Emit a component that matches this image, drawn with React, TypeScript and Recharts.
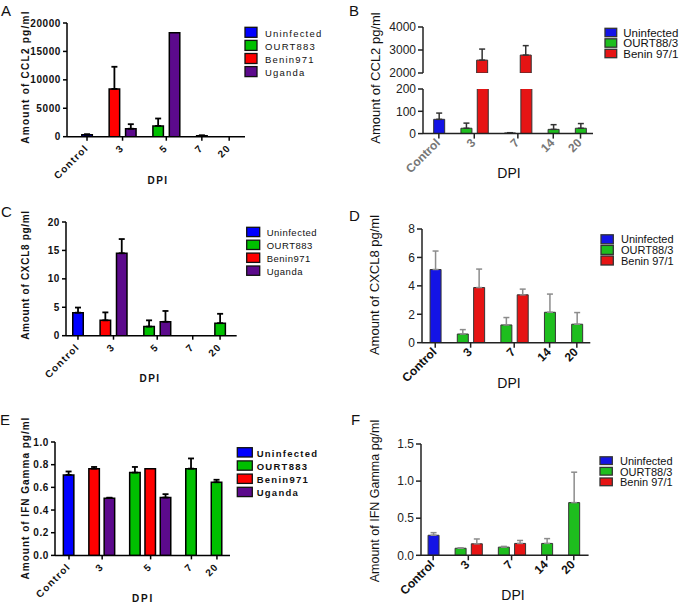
import React from 'react';
import { BarChart, Bar, XAxis, YAxis, ErrorBar, Cell } from 'recharts';

type Num = number | null;

// ---------- colours ----------
const prismColors = ['#0000FF', '#00C000', '#FF0000', '#5C0A8C'];
const oldColors = ['#1414E6', '#1EBE1E', '#E61414'];

// ---------- Panel A : CCL2 ----------
const aCategories = ['Control', '3', '5', '7', '20'];
const aSeries = ['Uninfected', 'OURT883', 'Benin971', 'Uganda'];
const aUninfected: Num[] = [350, null, null, null, null];
const aOURT883: Num[] = [null, null, 1900, 150, null];
const aBenin971: Num[] = [null, 8400, null, null, null];
const aUganda: Num[] = [null, 1400, 18300, null, null];
const aUninfectedErr: Num[] = [80, null, null, null, null];
const aOURT883Err: Num[] = [null, null, 1300, 100, null];
const aBenin971Err: Num[] = [null, 3900, null, null, null];
const aUgandaErr: Num[] = [null, 800, null, null, null];
const aYTicks = [0, 5000, 10000, 15000, 20000];

// ---------- Panel B : CCL2 (broken axis) ----------
const bCategories = ['Control', '3', '7', '14', '20'];
const bSeries = ['Uninfected', 'OURT88/3', 'Benin 97/1'];
const bUninfected: Num[] = [64, null, null, null, null];
const bOURT883: Num[] = [null, 24, 3, 19, 24];
const bBenin971: Num[] = [null, 2560, 2780, null, null];
const bUninfectedErr: Num[] = [28, null, null, null, null];
const bOURT883Err: Num[] = [null, 23, 1, 21, 21];
const bBenin971Err: Num[] = [null, 480, 410, null, null];
const bYTicksUpper = [2000, 3000, 4000];
const bYTicksLower = [0, 100, 200];

// ---------- Panel C : CXCL8 ----------
const cCategories = ['Control', '3', '5', '7', '20'];
const cSeries = ['Uninfected', 'OURT883', 'Benin971', 'Uganda'];
const cUninfected: Num[] = [4.05, null, null, null, null];
const cOURT883: Num[] = [null, null, 1.6, null, 2.2];
const cBenin971: Num[] = [null, 2.7, null, null, null];
const cUganda: Num[] = [null, 14.5, 2.45, null, null];
const cUninfectedErr: Num[] = [0.9, null, null, null, null];
const cOURT883Err: Num[] = [null, null, 1.1, null, 1.65];
const cBenin971Err: Num[] = [null, 1.4, null, null, null];
const cUgandaErr: Num[] = [null, 2.5, 1.9, null, null];
const cYTicks = [0, 5, 10, 15, 20];

// ---------- Panel D : CXCL8 ----------
const dCategories = ['Control', '3', '7', '14', '20'];
const dSeries = ['Uninfected', 'OURT88/3', 'Benin 97/1'];
const dUninfected: Num[] = [5.15, null, null, null, null];
const dOURT883: Num[] = [null, 0.61, 1.25, 2.14, 1.3];
const dBenin971: Num[] = [null, 3.88, 3.37, null, null];
const dUninfectedErr: Num[] = [1.3, null, null, null, null];
const dOURT883Err: Num[] = [null, 0.31, 0.52, 1.28, 0.82];
const dBenin971Err: Num[] = [null, 1.3, 0.4, null, null];
const dYTicks = [0, 2, 4, 6, 8];

// ---------- Panel E : IFN Gamma ----------
const eCategories = ['Control', '3', '5', '7', '20'];
const eSeries = ['Uninfected', 'OURT883', 'Benin971', 'Uganda'];
const eUninfected: Num[] = [0.71, null, null, null, null];
const eOURT883: Num[] = [null, null, 0.73, 0.765, 0.645];
const eBenin971: Num[] = [null, 0.765, 0.765, null, null];
const eUganda: Num[] = [null, 0.505, 0.51, null, null];
const eUninfectedErr: Num[] = [0.03, null, null, null, null];
const eOURT883Err: Num[] = [null, null, 0.05, 0.09, 0.022];
const eBenin971Err: Num[] = [null, 0.015, null, null, null];
const eUgandaErr: Num[] = [null, 0.004, 0.03, null, null];
const eYTicks = [0, 0.2, 0.4, 0.6, 0.8, 1.0];

// ---------- Panel F : IFN Gamma ----------
const fCategories = ['Control', '3', '7', '14', '20'];
const fSeries = ['Uninfected', 'OURT88/3', 'Benin 97/1'];
const fUninfected: Num[] = [0.27, null, null, null, null];
const fOURT883: Num[] = [null, 0.095, 0.11, 0.16, 0.71];
const fBenin971: Num[] = [null, 0.155, 0.16, null, null];
const fUninfectedErr: Num[] = [0.035, null, null, null, null];
const fOURT883Err: Num[] = [null, 0.006, 0.01, 0.065, 0.41];
const fBenin971Err: Num[] = [null, 0.065, 0.04, null, null];
const fYTicks = [0, 0.5, 1.0, 1.5];

// ---------- layout helper: one slot per present bar ----------
const GROUP_GAP = 2 / 3;
type Row = { pos: number; value: number; err: number[] | null; color: string };
function buildSlots(cats: string[], vals: Num[][], errs: Num[][], colors: string[]) {
  const rows: Row[] = [];
  const ticks: number[] = [];
  let pos = 0;
  cats.forEach((_, ci) => {
    if (ci > 0) pos += GROUP_GAP;
    const start = pos;
    let n = 0;
    vals.forEach((series, si) => {
      const v = series[ci];
      if (v == null) return;
      const e = errs[si][ci];
      rows.push({ pos, value: v, err: e != null ? [0, e] : null, color: colors[si] });
      pos += 1;
      n += 1;
    });
    if (n === 0) pos += 1;
    ticks.push((start + pos - 1) / 2);
  });
  return { rows, ticks };
}

const A = buildSlots(aCategories, [aUninfected, aOURT883, aBenin971, aUganda], [aUninfectedErr, aOURT883Err, aBenin971Err, aUgandaErr], prismColors);
const B = buildSlots(bCategories, [bUninfected, bOURT883, bBenin971], [bUninfectedErr, bOURT883Err, bBenin971Err], oldColors);
const C = buildSlots(cCategories, [cUninfected, cOURT883, cBenin971, cUganda], [cUninfectedErr, cOURT883Err, cBenin971Err, cUgandaErr], prismColors);
const D = buildSlots(dCategories, [dUninfected, dOURT883, dBenin971], [dUninfectedErr, dOURT883Err, dBenin971Err], oldColors);
const E = buildSlots(eCategories, [eUninfected, eOURT883, eBenin971, eUganda], [eUninfectedErr, eOURT883Err, eBenin971Err, eUgandaErr], prismColors);
const F = buildSlots(fCategories, [fUninfected, fOURT883, fBenin971], [fUninfectedErr, fOURT883Err, fBenin971Err], oldColors);

const FONT = '"Liberation Sans", Arial, Helvetica, sans-serif';

type Style = {
  barSize: number; barStroke: string; barStrokeWidth: number;
  errStroke: string; errWidth: number; capWidth: number;
  axisStroke: string; axisWidth: number; tickSize: number;
  yTick: any; xTick: any; xdx: number; xdy: number;
};

const prismStyle: Style = {
  barSize: 10.5, barStroke: '#000', barStrokeWidth: 1.5,
  errStroke: '#000', errWidth: 1.8, capWidth: 3,
  axisStroke: '#000', axisWidth: 1.5, tickSize: 4,
  yTick: { fontSize: 10, fontWeight: 700, letterSpacing: 0.6, fill: '#111', fontFamily: FONT },
  xTick: { fontSize: 10, fontWeight: 700, letterSpacing: 1.2, fill: '#111', fontFamily: FONT },
  xdx: 2, xdy: 6,
};
const oldStyle = (errStroke: string, tickFill: string): Style => ({
  barSize: 11, barStroke: '#333', barStrokeWidth: 1,
  errStroke, errWidth: 1.5, capWidth: 3,
  axisStroke: '#222', axisWidth: 1.5, tickSize: 5,
  yTick: { fontSize: 12, fill: '#222', fontFamily: FONT },
  xTick: { fontSize: 12, fontWeight: 700, fill: tickFill, fontFamily: FONT },
  xdx: 2, xdy: 3,
});
const bStyle = oldStyle('#333', '#777');
const dfStyle = oldStyle('#8c8c8c', '#111');

type Plot = { x0: number; y0: number; x1: number; y1: number };

function BarPanel(props: {
  plot: Plot; rows: Row[]; ticks: number[]; labels: string[];
  xDomain: number[]; yDomain: number[]; yTicks: number[];
  yFormat?: (v: number) => string; st: Style; showX?: boolean;
}) {
  const { plot, rows, ticks, labels, xDomain, yDomain, yTicks, yFormat, st } = props;
  const showX = props.showX !== false;
  const yAxisW = 55;
  const top = plot.y0 - 10;
  const left = plot.x0 - yAxisW;
  const xAxisH = showX ? 52 : 0;
  const bottomPad = showX ? 0 : 10;
  const width = plot.x1 - left + 6;
  const height = plot.y1 - top + xAxisH + bottomPad;
  const data = rows
    .filter((r) => r.value >= yDomain[0])
    .map((r) => ({ ...r, err: r.value <= yDomain[1] ? r.err : null }));
  const renderTick = (p: any) => {
    const label = labels[ticks.indexOf(p.payload.value)] ?? labels[p.index];
    return (
      <g transform={`translate(${p.x + st.xdx},${p.y + st.xdy})`}>
        <text transform="rotate(-45)" textAnchor="end" {...st.xTick}>{label}</text>
      </g>
    );
  };
  return (
    <div style={{ position: 'absolute', left, top }}>
      <BarChart width={width} height={height} data={data}
        margin={{ top: plot.y0 - top, right: 6, bottom: bottomPad, left: 0 }}>
        <XAxis type="number" dataKey="pos" domain={xDomain} ticks={ticks} interval={0}
          allowDataOverflow hide={!showX} height={xAxisH}
          axisLine={{ stroke: st.axisStroke, strokeWidth: st.axisWidth }}
          tickLine={{ stroke: st.axisStroke, strokeWidth: st.axisWidth }}
          tickSize={st.tickSize} tick={renderTick} />
        <YAxis type="number" domain={yDomain} ticks={yTicks} interval={0} allowDataOverflow
          width={yAxisW} axisLine={{ stroke: st.axisStroke, strokeWidth: st.axisWidth }}
          tickLine={{ stroke: st.axisStroke, strokeWidth: st.axisWidth }}
          tickSize={st.tickSize} tick={st.yTick} tickFormatter={yFormat} />
        <Bar dataKey="value" barSize={st.barSize} isAnimationActive={false}
          stroke={st.barStroke} strokeWidth={st.barStrokeWidth}>
          {data.map((r, i) => <Cell key={i} fill={r.color} />)}
          <ErrorBar dataKey="err" width={st.capWidth} stroke={st.errStroke}
            strokeWidth={st.errWidth} direction="y" isAnimationActive={false} />
        </Bar>
      </BarChart>
    </div>
  );
}

function YTitle({ x, y, text, size, bold, ls }: any) {
  return (
    <text transform={`translate(${x},${y}) rotate(-90)`} textAnchor="middle" fontFamily={FONT}
      fontSize={size} fontWeight={bold ? 700 : 400} letterSpacing={ls} fill="#111">{text}</text>
  );
}

function LegendBox({ x, y, w, h, step, tx, names, colors, size, bold, ls, base, stroke }: any) {
  return (
    <g>
      {names.map((n: string, i: number) => (
        <g key={n}>
          <rect x={x} y={y + i * step} width={w} height={h} fill={colors[i]} stroke={stroke} strokeWidth={1.3} />
          <text x={tx} y={y + i * step + base} fontFamily={FONT} fontSize={size}
            fontWeight={bold ? 700 : 400} letterSpacing={ls} fill="#111">{n}</text>
        </g>
      ))}
    </g>
  );
}

const f1 = (v: number) => v.toFixed(1);

export default function App() {
  return (
    <div style={{ position: 'absolute', left: 0, top: 0, width: 685, height: 604, background: '#fff', overflow: 'hidden' }}>
      <BarPanel plot={{ x0: 67, y0: 23.3, x1: 245, y1: 137 }} rows={A.rows} ticks={A.ticks} labels={aCategories}
        xDomain={[-1.22, 9.63]} yDomain={[0, 20000]} yTicks={aYTicks} st={prismStyle} />
      <BarPanel plot={{ x0: 423.3, y0: 26.7, x1: 593.3, y1: 72.7 }} rows={B.rows} ticks={B.ticks} labels={bCategories}
        xDomain={[-0.97, 9.43]} yDomain={[2000, 4000]} yTicks={bYTicksUpper} st={bStyle} showX={false} />
      <BarPanel plot={{ x0: 423.3, y0: 88.7, x1: 593.3, y1: 133.3 }} rows={B.rows} ticks={B.ticks} labels={bCategories}
        xDomain={[-0.97, 9.43]} yDomain={[0, 200]} yTicks={bYTicksLower} st={bStyle} />
      <BarPanel plot={{ x0: 66, y0: 222.3, x1: 236.7, y1: 336 }} rows={C.rows} ticks={C.ticks} labels={cCategories}
        xDomain={[-0.73, 9.68]} yDomain={[0, 20]} yTicks={cYTicks} st={prismStyle} />
      <BarPanel plot={{ x0: 421.7, y0: 229.3, x1: 590, y1: 343 }} rows={D.rows} ticks={D.ticks} labels={dCategories}
        xDomain={[-0.81, 9.49]} yDomain={[0, 8]} yTicks={dYTicks} st={dfStyle} />
      <BarPanel plot={{ x0: 55, y0: 442.3, x1: 230, y1: 555.7 }} rows={E.rows} ticks={E.ticks} labels={eCategories}
        xDomain={[-0.915, 10.52]} yDomain={[0, 1]} yTicks={eYTicks} yFormat={f1} st={prismStyle} />
      <BarPanel plot={{ x0: 420.7, y0: 444, x1: 588.3, y1: 555.3 }} rows={F.rows} ticks={F.ticks} labels={fCategories}
        xDomain={[-0.75, 9.58]} yDomain={[0, 1.5]} yTicks={fYTicks} yFormat={f1} st={dfStyle} />

      <svg width={685} height={604} style={{ position: 'absolute', left: 0, top: 0, pointerEvents: 'none' }}>
        {/* panel letters */}
        <g fontFamily={FONT} fontSize={15} fill="#111">
          <text x={1} y={15.5}>A</text>
          <text x={349} y={15.5}>B</text>
          <text x={1} y={216.5}>C</text>
          <text x={349} y={220.5}>D</text>
          <text x={0} y={425}>E</text>
          <text x={351} y={425}>F</text>
        </g>
        {/* axis titles */}
        <YTitle x={29} y={77} text="Amount of CCL2 pg/ml" size={10} bold ls={1.25} />
        <YTitle x={379.5} y={78} text="Amount of CCL2 pg/ml" size={13} />
        <YTitle x={29} y={275} text="Amount of CXCL8 pg/ml" size={10} bold ls={0.7} />
        <YTitle x={379} y={285} text="Amount of CXCL8 pg/ml" size={13} />
        <YTitle x={29} y={498} text="Amount of IFN Gamma pg/ml" size={10} bold ls={1.0} />
        <YTitle x={379} y={501} text="Amount of IFN Gamma pg/ml" size={12.5} />
        <g fontFamily={FONT} fill="#111" textAnchor="middle">
          <text x={158} y={183.5} fontSize={10} fontWeight={700} letterSpacing={1.5}>DPI</text>
          <text x={509} y={178} fontSize={14}>DPI</text>
          <text x={150} y={382} fontSize={10} fontWeight={700} letterSpacing={1.5}>DPI</text>
          <text x={509} y={388} fontSize={14}>DPI</text>
          <text x={143} y={601.5} fontSize={10} fontWeight={700} letterSpacing={1.8}>DPI</text>
          <text x={513} y={600} fontSize={14}>DPI</text>
        </g>
        {/* legends */}
        <LegendBox x={245} y={27.3} w={12} h={10} step={13.1} tx={265} names={aSeries} colors={prismColors}
          size={9.5} ls={1.2} base={9.4} stroke="#111" />
        <LegendBox x={605} y={28.3} w={11.7} h={8.4} step={10.5} tx={623.3} names={bSeries} colors={oldColors}
          size={11.5} base={8.6} stroke="#333" />
        <LegendBox x={246.7} y={227.3} w={13} h={9.3} step={12.9} tx={266.7} names={cSeries} colors={prismColors}
          size={9.5} ls={0.5} base={9} stroke="#111" />
        <LegendBox x={601} y={234.8} w={12.3} h={9} step={10.6} tx={621} names={dSeries} colors={oldColors}
          size={11} base={8.6} stroke="#333" />
        <LegendBox x={237.3} y={447.7} w={15} h={9.3} step={13.2} tx={256.7} names={eSeries} colors={prismColors}
          size={9.5} bold ls={1.26} base={9} stroke="#111" />
        <LegendBox x={600} y={456.8} w={12.3} h={7.7} step={10.6} tx={620} names={fSeries} colors={oldColors}
          size={11} base={8.2} stroke="#333" />
      </svg>
    </div>
  );
}
